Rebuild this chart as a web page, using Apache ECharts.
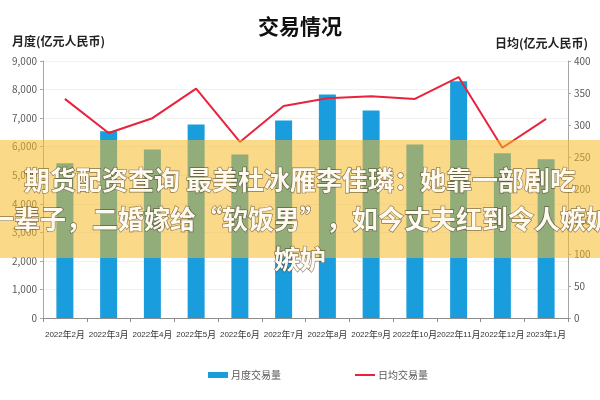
<!DOCTYPE html>
<html><head><meta charset="utf-8">
<script src="https://cdn.jsdelivr.net/npm/echarts@6/dist/echarts.min.js"></script>
<style>html,body{margin:0;padding:0;background:#fff}#c{width:600px;height:400px}</style>
</head><body><div id="c"></div>
<script>
const categories = ['2022年2月','2022年3月','2022年4月','2022年5月','2022年6月','2022年7月','2022年8月','2022年9月','2022年10月','2022年11月','2022年12月','2023年1月'];
const monthlyVolume = [5420, 6540, 5900, 6780, 5730, 6920, 7830, 7270, 6080, 8290, 5770, 5560];
const dailyVolume = [341, 288, 311, 357, 274, 330, 342, 345, 341, 375, 265, 310];
const leftTicks = [0, 9000, 1000];
const rightTicks = [0, 400, 50];
const titleText = '交易情况';
const leftAxisName = '月度(亿元人民币)';
const rightAxisName = '日均(亿元人民币)';
const seriesNames = ['月度交易量', '日均交易量'];
const bannerLines = ['期货配资查询 最美杜冰雁李佳璘：她靠一部剧吃', '一辈子，二婚嫁给“软饭男”，如今丈夫红到令人嫉妒', '嫉妒'];

const FONT = '"Noto Sans CJK SC", "Noto Sans", sans-serif';
const chart = echarts.init(document.getElementById('c'));
const bannerText = (txt, y) => ({
  type: 'text', left: 'center', top: y, z: 101,
  style: { text: txt, fontSize: 26, fontWeight: 'bold', fontFamily: FONT, fill: '#fffaf0',
    stroke: 'rgba(60,45,25,0.6)', lineWidth: 1.3,
    shadowColor: 'rgba(0,0,0,0.5)', shadowBlur: 3, shadowOffsetX: 1, shadowOffsetY: 1 }
});
// split label into digit runs and CJK runs to mimic the narrow original font
const labelFormatter = v => v.replace(/(\d+)/g, '{d|$1}').replace(/([年月])/g, '{c|$1}');
chart.setOption({
  animation: false,
  backgroundColor: '#fff',
  textStyle: { fontFamily: FONT },
  title: { text: titleText, left: 'center', top: 11, textStyle: { fontSize: 21, fontWeight: 'bold', color: '#111', fontFamily: FONT } },
  grid: { left: 43, right: 32, top: 61, bottom: 82, containLabel: false },
  legend: {
    bottom: 15, left: 203, itemWidth: 20, itemHeight: 6, itemGap: 73,
    textStyle: { fontSize: 10, color: '#595959', padding: [0, 0, 0, -2] },
    lineStyle: { width: 2 },
    data: [{ name: seriesNames[0], icon: 'rect' }, { name: seriesNames[1], itemStyle: { opacity: 0 } }]
  },
  xAxis: {
    type: 'category', data: categories,
    axisLine: { lineStyle: { color: '#8c8c8c', width: 1 } },
    axisTick: { show: true, length: 4, lineStyle: { color: '#8c8c8c' } },
    axisLabel: { color: '#333', margin: 12, interval: 0, formatter: labelFormatter,
      rich: {
        d: { fontSize: 8, fontFamily: '"Liberation Sans", sans-serif', color: '#333' },
        c: { fontSize: 8.8, fontFamily: FONT, color: '#333' }
      } }
  },
  yAxis: [
    { type: 'value', min: leftTicks[0], max: leftTicks[1], interval: leftTicks[2],
      name: leftAxisName, nameLocation: 'end', nameGap: 14,
      nameTextStyle: { fontSize: 12, fontWeight: 'bold', color: '#222', align: 'left', padding: [0, 0, 0, -31] },
      axisLine: { show: true, lineStyle: { color: '#a6a6a6' } },
      axisTick: { show: true, length: 3, lineStyle: { color: '#a6a6a6' } },
      axisLabel: { fontSize: 10, color: '#595959', margin: 6, formatter: v => v.toLocaleString('en-US') },
      splitLine: { show: true, lineStyle: { color: '#f2f2f2' } } },
    { type: 'value', min: rightTicks[0], max: rightTicks[1], interval: rightTicks[2],
      name: rightAxisName, nameLocation: 'end', nameGap: 12,
      nameTextStyle: { fontSize: 12, fontWeight: 'bold', color: '#222', align: 'right', padding: [0, -20, 0, 0] },
      axisLine: { show: true, lineStyle: { color: '#a6a6a6' } },
      axisTick: { show: true, length: 3, lineStyle: { color: '#a6a6a6' } },
      axisLabel: { fontSize: 10, color: '#595959', margin: 6 },
      splitLine: { show: false } }
  ],
  series: [
    { name: seriesNames[0], type: 'bar', data: monthlyVolume, barWidth: 17, itemStyle: { color: '#1a9ddc' }, yAxisIndex: 0 },
    { name: seriesNames[1], type: 'line', data: dailyVolume, yAxisIndex: 1, symbol: 'none',
      lineStyle: { color: '#e8233d', width: 2 }, itemStyle: { color: '#e8233d' }, z: 3 }
  ],
  graphic: [
    { type: 'rect', left: 0, top: 140, z: 100, shape: { width: 600, height: 118 },
      style: { fill: 'rgba(245,185,40,0.55)' } },
    bannerText(bannerLines[0], 166),
    bannerText(bannerLines[1], 205),
    bannerText(bannerLines[2], 245)
  ]
});
</script></body></html>
